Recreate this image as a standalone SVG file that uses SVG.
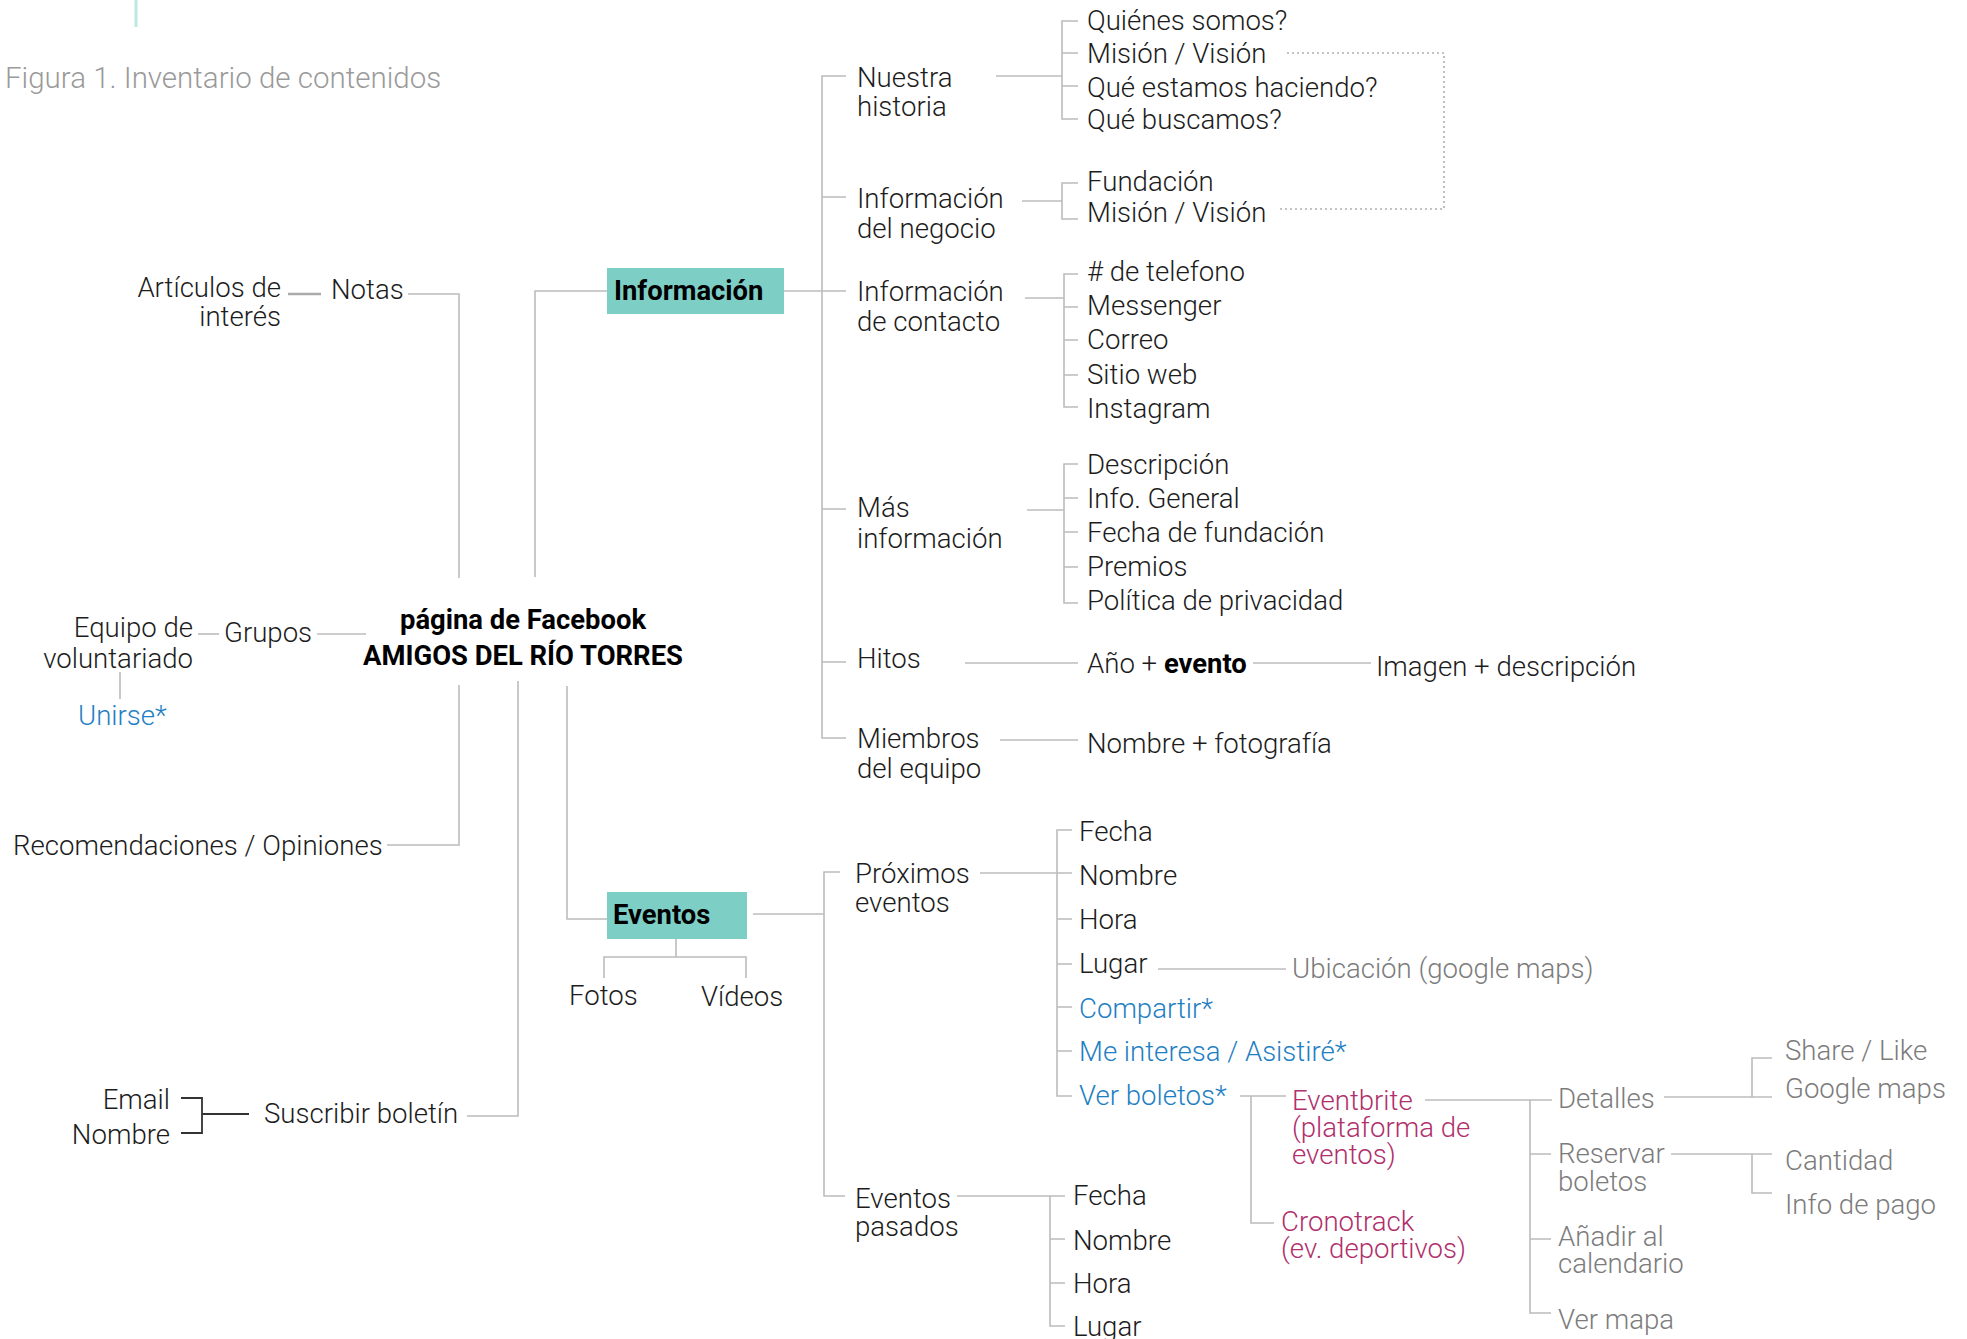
<svg xmlns="http://www.w3.org/2000/svg" width="1967" height="1339" viewBox="0 0 1967 1339">
<style>
text{font-family:Roboto,"Liberation Sans",sans-serif;font-weight:300;font-size:27.6px;fill:#1c1c1c}
.b{font-weight:700;fill:#000;font-size:27.4px}
.blue{fill:#1f7fc3}
.mag{fill:#b0306c}
.gray{fill:#7c7c7c}
.fig{fill:#9a9a9a;font-size:29.5px}
.r{text-anchor:end}
.m{text-anchor:middle}
.ln{stroke:#bcbcbc;stroke-width:1.6;fill:none}
.dk{stroke:#333;stroke-width:1.8;fill:none}
.dot{stroke:#b0b0b0;stroke-width:1.6;fill:none;stroke-dasharray:2 3}
.box{fill:#7dcfc6}
</style>
<rect width="1967" height="1339" fill="#fff"/>
<line x1="136" y1="0" x2="136" y2="27" stroke="#bde8e2" stroke-width="3"/>
<text class="fig" x="5" y="88">Figura 1. Inventario de contenidos</text>

<g id="connectors">
  <line class="ln" x1="288" y1="294" x2="321" y2="294" style="stroke-width:2.6;stroke:#aaa"/>
  <path class="ln" d="M408 294 H459 V578"/>
  <path class="ln" d="M607 291 H535 V577"/>
  <line class="ln" x1="198" y1="634" x2="219" y2="634"/>
  <line class="ln" x1="317" y1="634" x2="366" y2="634"/>
  <line class="ln" x1="120" y1="672" x2="120" y2="699"/>
  <path class="ln" d="M459 685 V845 H387"/>
  <path class="ln" d="M518 681 V1116 H467"/>
  <path class="ln" d="M567 686 V919 H607"/>
  <path class="dk" d="M181 1098 H202 V1133 H181 M202 1114 H249"/>
  <path class="ln" d="M676 928 V957 M604 978 V957 H746 V978"/>
  <line class="ln" x1="784" y1="291" x2="822" y2="291"/>
  <path class="ln" d="M846 76 H822 V738 H846 M822 197 H846 M822 291 H846 M822 509 H846 M822 662 H846"/>
  <line class="ln" x1="996" y1="76" x2="1062" y2="76"/>
  <path class="ln" d="M1078 21 H1062 V119 H1078 M1062 53 H1078 M1062 86 H1078"/>
  <path class="dot" d="M1287 53 H1444 V209 H1280"/>
  <line class="ln" x1="1022" y1="201" x2="1062" y2="201"/>
  <path class="ln" d="M1078 183 H1062 V219 H1078"/>
  <line class="ln" x1="1025" y1="298" x2="1064" y2="298"/>
  <path class="ln" d="M1078 274 H1064 V407 H1078 M1064 307 H1078 M1064 340 H1078 M1064 375 H1078"/>
  <line class="ln" x1="1027" y1="510" x2="1064" y2="510"/>
  <path class="ln" d="M1078 464 H1064 V603 H1078 M1064 498 H1078 M1064 532 H1078 M1064 567 H1078"/>
  <line class="ln" x1="965" y1="663" x2="1078" y2="663"/>
  <line class="ln" x1="1253" y1="663" x2="1371" y2="663"/>
  <line class="ln" x1="1000" y1="740" x2="1078" y2="740"/>
  <line class="ln" x1="753" y1="914" x2="824" y2="914"/>
  <path class="ln" d="M840 872 H824 V1196 H845"/>
  <line class="ln" x1="980" y1="873" x2="1072" y2="873"/>
  <path class="ln" d="M1072 830 H1057 V1096 H1072 M1057 919 H1072 M1057 964 H1072 M1057 1007 H1072 M1057 1051 H1072"/>
  <line class="ln" x1="1158" y1="969" x2="1286" y2="969"/>
  <path class="ln" d="M1240 1096 H1286 M1251 1096 V1223 H1274"/>
  <line class="ln" x1="1425" y1="1100" x2="1552" y2="1100"/>
  <path class="ln" d="M1530 1100 V1313 H1551 M1530 1154 H1551 M1530 1239 H1551"/>
  <line class="ln" x1="1664" y1="1097" x2="1772" y2="1097"/>
  <path class="ln" d="M1772 1058 H1752 V1097"/>
  <line class="ln" x1="1671" y1="1154" x2="1772" y2="1154"/>
  <path class="ln" d="M1752 1154 V1193 H1772"/>
  <line class="ln" x1="957" y1="1196" x2="1065" y2="1196"/>
  <path class="ln" d="M1050 1196 V1326 H1065 M1050 1239 H1065 M1050 1283 H1065"/>
</g>

<g id="root"><text class="b m" x="523" y="629">página de Facebook</text><text class="b m" x="523" y="665">AMIGOS DEL RÍO TORRES</text></g>
<g id="informacion"><rect class="box" x="607" y="268" width="177" height="46"/><text class="b" x="614" y="300">Información</text></g>
<g id="eventos"><rect class="box" x="607" y="892" width="140" height="47"/><text class="b" x="613" y="924">Eventos</text></g>

<g id="notas"><text x="331" y="299">Notas</text></g>
<g id="articulos"><text class="r" x="281" y="297">Artículos de</text><text class="r" x="281" y="326">interés</text></g>
<g id="grupos"><text x="224" y="642">Grupos</text></g>
<g id="equipo"><text class="r" x="193" y="637">Equipo de</text><text class="r" x="193" y="668">voluntariado</text></g>
<g id="unirse"><text class="blue" x="78" y="725">Unirse*</text></g>
<g id="recomendaciones"><text x="13" y="855">Recomendaciones / Opiniones</text></g>
<g id="suscribir"><text x="264" y="1123">Suscribir boletín</text></g>
<g id="email"><text class="r" x="170" y="1109">Email</text></g>
<g id="nombre-bol"><text class="r" x="170" y="1144">Nombre</text></g>
<g id="fotos"><text x="569" y="1005">Fotos</text></g>
<g id="videos"><text x="701" y="1006">Vídeos</text></g>

<g id="nuestra"><text x="857" y="87">Nuestra</text><text x="857" y="116">historia</text></g>
<g id="negocio"><text x="857" y="208">Información</text><text x="857" y="238">del negocio</text></g>
<g id="contacto"><text x="857" y="301">Información</text><text x="857" y="331">de contacto</text></g>
<g id="mas"><text x="857" y="517">Más</text><text x="857" y="548">información</text></g>
<g id="hitos"><text x="857" y="668">Hitos</text></g>
<g id="miembros"><text x="857" y="748">Miembros</text><text x="857" y="778">del equipo</text></g>

<g id="historia-items">
<text x="1087" y="30">Quiénes somos?</text>
<text x="1087" y="63">Misión / Visión</text>
<text x="1087" y="97">Qué estamos haciendo?</text>
<text x="1087" y="129">Qué buscamos?</text>
</g>
<g id="negocio-items">
<text x="1087" y="191">Fundación</text>
<text x="1087" y="222">Misión / Visión</text>
</g>
<g id="contacto-items">
<text x="1087" y="281"># de telefono</text>
<text x="1087" y="315">Messenger</text>
<text x="1087" y="349">Correo</text>
<text x="1087" y="384">Sitio web</text>
<text x="1087" y="418">Instagram</text>
</g>
<g id="mas-items">
<text x="1087" y="474">Descripción</text>
<text x="1087" y="508">Info. General</text>
<text x="1087" y="542">Fecha de fundación</text>
<text x="1087" y="576">Premios</text>
<text x="1087" y="610">Política de privacidad</text>
</g>
<g id="anio"><text x="1087" y="673">Año + <tspan class="b">evento</tspan></text></g>
<g id="imagen"><text x="1376" y="676">Imagen + descripción</text></g>
<g id="nombre-foto"><text x="1087" y="753">Nombre + fotografía</text></g>

<g id="proximos"><text x="855" y="883">Próximos</text><text x="855" y="912">eventos</text></g>
<g id="proximos-items">
<text x="1079" y="841">Fecha</text>
<text x="1079" y="885">Nombre</text>
<text x="1079" y="929">Hora</text>
<text x="1079" y="973">Lugar</text>
<text class="blue" x="1079" y="1018">Compartir*</text>
<text class="blue" x="1079" y="1061">Me interesa / Asistiré*</text>
<text class="blue" x="1079" y="1105">Ver boletos*</text>
</g>
<g id="ubicacion"><text class="gray" x="1292" y="978">Ubicación (google maps)</text></g>
<g id="eventbrite"><text class="mag" x="1292" y="1110">Eventbrite</text><text class="mag" x="1292" y="1137">(plataforma de</text><text class="mag" x="1292" y="1164">eventos)</text></g>
<g id="cronotrack"><text class="mag" x="1281" y="1231">Cronotrack</text><text class="mag" x="1281" y="1258">(ev. deportivos)</text></g>
<g id="detalles"><text class="gray" x="1558" y="1108">Detalles</text></g>
<g id="reservar"><text class="gray" x="1558" y="1163">Reservar</text><text class="gray" x="1558" y="1191">boletos</text></g>
<g id="anadir"><text class="gray" x="1558" y="1246">Añadir al</text><text class="gray" x="1558" y="1273">calendario</text></g>
<g id="vermapa"><text class="gray" x="1558" y="1329">Ver mapa</text></g>
<g id="share"><text class="gray" x="1785" y="1060">Share / Like</text></g>
<g id="gmaps"><text class="gray" x="1785" y="1098">Google maps</text></g>
<g id="cantidad"><text class="gray" x="1785" y="1170">Cantidad</text></g>
<g id="pago"><text class="gray" x="1785" y="1214">Info de pago</text></g>

<g id="pasados"><text x="855" y="1208">Eventos</text><text x="855" y="1236">pasados</text></g>
<g id="pasados-items">
<text x="1073" y="1205">Fecha</text>
<text x="1073" y="1250">Nombre</text>
<text x="1073" y="1293">Hora</text>
<text x="1073" y="1336">Lugar</text>
</g>
</svg>
